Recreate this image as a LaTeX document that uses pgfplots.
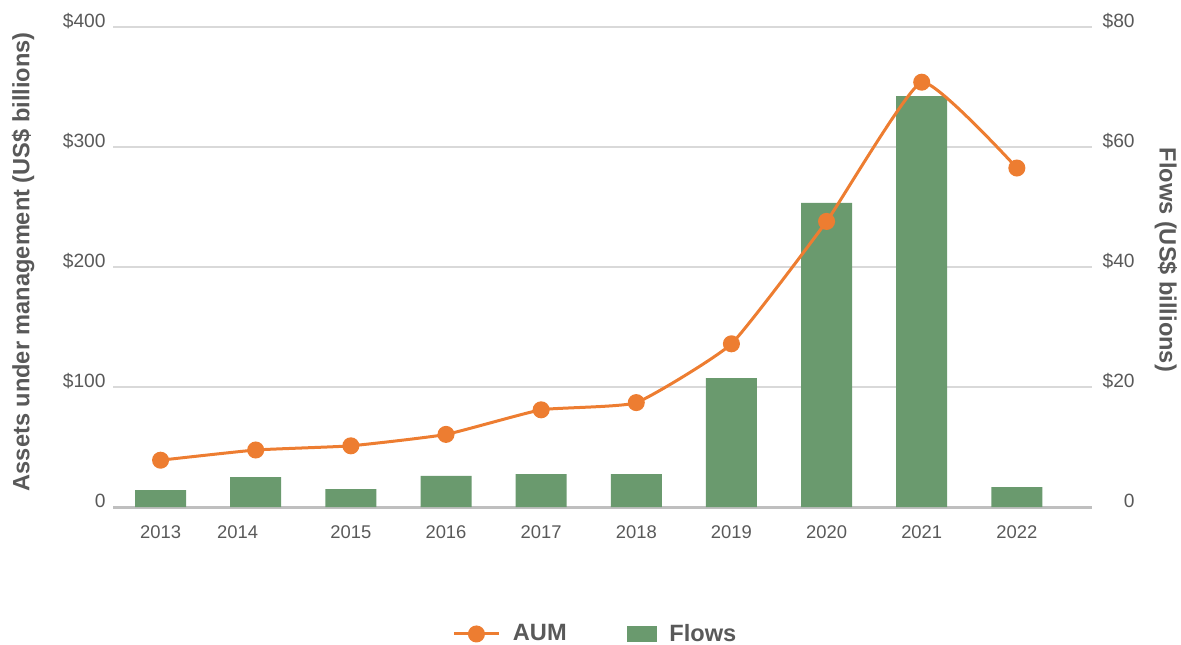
\documentclass[border=0pt]{standalone}
\usepackage{fontspec}
\setmainfont{Liberation Sans}
\usepackage{pgfplots}
\pgfplotsset{compat=1.18}
\definecolor{aum}{RGB}{237,125,49}
\definecolor{flows}{RGB}{106,154,110}
\definecolor{txt}{RGB}{89,89,89}
\definecolor{gridc}{RGB}{217,217,217}
\definecolor{basec}{RGB}{191,191,191}
\pgfplotsset{
  aumlegend/.style={legend image code/.code={\draw[##1, mark repeat=2, mark phase=2] plot coordinates {(0pt,0pt) (11pt,0pt) (22pt,0pt)};\path (26.5pt,0pt);}},
  flowlegend/.style={legend image code/.code={\fill[flows] (0pt,-3.75pt) rectangle (14.5pt,3.75pt);\path (19pt,0pt);}},
}
\begin{document}
\begin{tikzpicture}
\useasboundingbox (0,0) rectangle (590.5pt,322pt);
% Flows (right axis) with grid and x ticks
\begin{axis}[
  at={(56.5pt,68.5pt)}, anchor=south west,
  width=489.5pt, height=240pt, scale only axis,
  xmin=-0.5, xmax=9.79, ymin=0, ymax=80,
  axis line style={draw=none},
  axis y line*=right,
  major tick length=0pt,
  xtick={0,0.81,2,3,4,5,6,7,8,9},
  xticklabels={2013,2014,2015,2016,2017,2018,2019,2020,2021,2022},
  xticklabel style={font=\fontsize{9.2pt}{11pt}\selectfont, text=txt, anchor=north, inner sep=0pt, yshift=-9pt},
  ytick={0,20,40,60,80},
  yticklabels={0,\$20,\$40,\$60,\$80},
  yticklabel style={font=\fontsize{9.6pt}{11pt}\selectfont, text=txt, anchor=east, inner sep=0pt, xshift=21.5pt, yshift=3pt},
  ymajorgrids, grid style={gridc, line width=0.75pt},
  every axis y label/.style={at={(axis description cs:1.0756,0.515)}, anchor=center, rotate=-90},
  ylabel={Flows (US\$ billions)},
  ylabel style={font=\fontsize{11.8pt}{14pt}\selectfont\bfseries, text=txt},
  clip=false,
]
\draw[basec, line width=1.5pt] (axis cs:-0.5,0) -- (axis cs:9.79,0);
\addplot[ybar, bar width=25.5pt, fill=flows, draw=none] coordinates {
 (0,2.83) (1,5.0) (2,3.0) (3,5.17) (4,5.5) (5,5.5) (6,21.5) (7,50.7) (8,68.5) (9,3.33)
};
\end{axis}
% AUM (left axis)
\begin{axis}[
  at={(56.5pt,68.5pt)}, anchor=south west,
  width=489.5pt, height=240pt, scale only axis,
  xmin=-0.5, xmax=9.79, ymin=0, ymax=400,
  axis line style={draw=none},
  axis y line*=left,
  axis x line=none,
  major tick length=0pt,
  ytick={0,100,200,300,400},
  yticklabels={0\hspace{5.5pt},\$100,\$200,\$300,\$400},
  yticklabel style={font=\fontsize{9.6pt}{11pt}\selectfont, text=txt, anchor=east, inner sep=0pt, xshift=-3.5pt, yshift=3pt},
  every axis y label/.style={at={(axis description cs:-0.0919,0.511)}, anchor=center, rotate=90},
  ylabel={Assets under management (US\$ billions)},
  ylabel style={font=\fontsize{11.8pt}{14pt}\selectfont\bfseries, text=txt},
  clip=false,
  legend columns=2,
  legend style={at={(axis description cs:0.494,-0.2645)}, anchor=center, draw=none, fill=none,
    font=\fontsize{11.8pt}{14pt}\selectfont\bfseries, text=txt,
    /tikz/every even column/.append style={column sep=28pt}},
]
\addplot[aum, line width=1.5pt, smooth, tension=0.25, mark=*, mark size=3.5pt, mark options={fill=aum, draw=aum}, aumlegend]
 coordinates {
 (0,39) (1,47.5) (2,51) (3,60.5) (4,81) (5,87) (6,136) (7,238) (8,354) (9,282.5)
};
\addlegendentry{AUM}
\addlegendimage{flowlegend}
\addlegendentry{Flows}
\end{axis}
\end{tikzpicture}
\end{document}
